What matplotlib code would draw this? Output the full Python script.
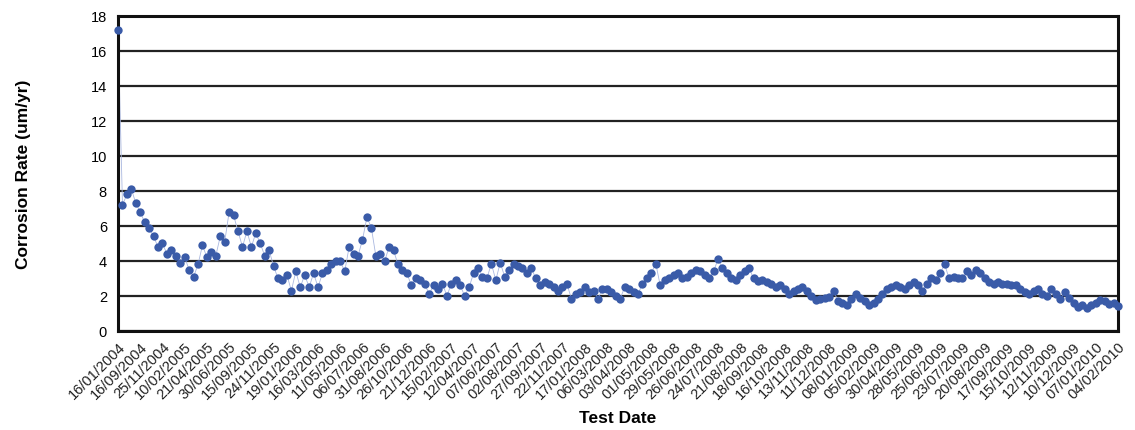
import matplotlib
matplotlib.use("Agg")
import matplotlib.pyplot as plt
import numpy as np

# Corrosion rate readings (um/yr), one per test, in date order
rate = [17.2, 7.2, 7.8, 8.1, 7.3, 6.8, 6.2, 5.9, 5.4, 4.8,
        5.0, 4.4, 4.6, 4.3, 3.9, 4.2, 3.5, 3.1, 3.8, 4.9,
        4.2, 4.5, 4.3, 5.4, 5.1, 6.8, 6.6, 5.7, 4.8, 5.7,
        4.8, 5.6, 5.0, 4.3, 4.6, 3.7, 3.0, 2.9, 3.2, 2.3,
        3.4, 2.5, 3.2, 2.5, 3.3, 2.5, 3.3, 3.5, 3.8, 4.0,
        4.0, 3.4, 4.8, 4.4, 4.3, 5.2, 6.5, 5.9, 4.3, 4.4,
        4.0, 4.8, 4.6, 3.8, 3.5, 3.3, 2.6, 3.0, 2.9, 2.7,
        2.1, 2.6, 2.4, 2.7, 2.0, 2.7, 2.9, 2.6, 2.0, 2.5,
        3.3, 3.6, 3.1, 3.0, 3.85, 2.9, 3.9, 3.1, 3.5, 3.8,
        3.7, 3.6, 3.3, 3.6, 3.0, 2.6, 2.8, 2.7, 2.5, 2.3,
        2.5, 2.7, 1.85, 2.1, 2.2, 2.5, 2.2, 2.3, 1.85, 2.4,
        2.4, 2.2, 2.0, 1.85, 2.5, 2.4, 2.2, 2.1, 2.7, 3.0,
        3.3, 3.85, 2.6, 2.9, 3.0, 3.2, 3.3, 3.0, 3.1, 3.3,
        3.5, 3.4, 3.2, 3.0, 3.4, 4.1, 3.6, 3.3, 3.0, 2.9,
        3.2, 3.4, 3.6, 3.0, 2.85, 2.9, 2.8, 2.7, 2.5, 2.6,
        2.4, 2.1, 2.3, 2.4, 2.5, 2.3, 2.0, 1.75, 1.8, 1.9,
        1.95, 2.3, 1.7, 1.6, 1.5, 1.8, 2.1, 1.9, 1.7, 1.5,
        1.6, 1.8, 2.1, 2.4, 2.5, 2.6, 2.5, 2.4, 2.6, 2.8,
        2.6, 2.3, 2.7, 3.0, 2.9, 3.3, 3.8, 3.0, 3.1, 3.0,
        3.0, 3.4, 3.2, 3.5, 3.3, 3.0, 2.8, 2.7, 2.8, 2.7,
        2.7, 2.6, 2.6, 2.4, 2.2, 2.1, 2.3, 2.4, 2.1, 2.0,
        2.4, 2.1, 1.8, 2.2, 1.9, 1.6, 1.35, 1.5, 1.3, 1.5,
        1.6, 1.75, 1.7, 1.55, 1.6, 1.4]

# Dates shown on the category axis (every 5th test)
date_labels = ["16/01/2004", "16/09/2004", "25/11/2004", "10/02/2005", "21/04/2005",
               "30/06/2005", "15/09/2005", "24/11/2005", "19/01/2006", "16/03/2006",
               "11/05/2006", "06/07/2006", "31/08/2006", "26/10/2006", "21/12/2006",
               "15/02/2007", "12/04/2007", "07/06/2007", "02/08/2007", "27/09/2007",
               "22/11/2007", "17/01/2008", "06/03/2008", "03/04/2008", "01/05/2008",
               "29/05/2008", "26/06/2008", "24/07/2008", "21/08/2008", "18/09/2008",
               "16/10/2008", "13/11/2008", "11/12/2008", "08/01/2009", "05/02/2009",
               "30/04/2009", "28/05/2009", "25/06/2009", "23/07/2009", "20/08/2009",
               "17/09/2009", "15/10/2009", "12/11/2009", "10/12/2009", "07/01/2010",
               "04/02/2010"]
label_step = 5

plt.rcParams['font.family'] = ['Liberation Sans', 'DejaVu Sans']

fig = plt.figure(figsize=(11.35, 4.31), dpi=100)
ax = fig.add_axes([0.104, 0.2297, 0.881, 0.7313])

x = np.arange(len(rate))
ax.plot(x, rate, '-', color='#aab8e0', linewidth=0.6, zorder=2, clip_on=False)
ax.plot(x, rate, 'o', color='#3a5ba8', markersize=6, markeredgewidth=0,
        zorder=3, clip_on=False)

ax.set_xlim(0, len(rate) - 1)
ax.set_ylim(0, 18)
ax.set_yticks(np.arange(0, 19, 2))
ax.yaxis.grid(True, color='#222222', linewidth=1.6)
ax.set_axisbelow(True)

ax.set_xticks(np.arange(0, len(rate), label_step))
ax.set_xticklabels(date_labels, rotation=45, ha='right', va='top',
                   rotation_mode='anchor', fontsize=10.5,
                   family=['Liberation Sans Narrow', 'Liberation Sans'],
                   color='#222222')
ax.tick_params(axis='x', length=0, pad=6)
ax.tick_params(axis='y', length=0, pad=8, labelsize=10.5)

for s in ax.spines.values():
    s.set_linewidth(2.2)
    s.set_color('#111111')

ax.set_ylabel('Corrosion Rate (um/yr)', fontsize=12.5, fontweight='bold', labelpad=43)
ax.set_xlabel('Test Date', fontsize=12.5, fontweight='bold', labelpad=6)

fig.savefig('out.png', dpi=100)
